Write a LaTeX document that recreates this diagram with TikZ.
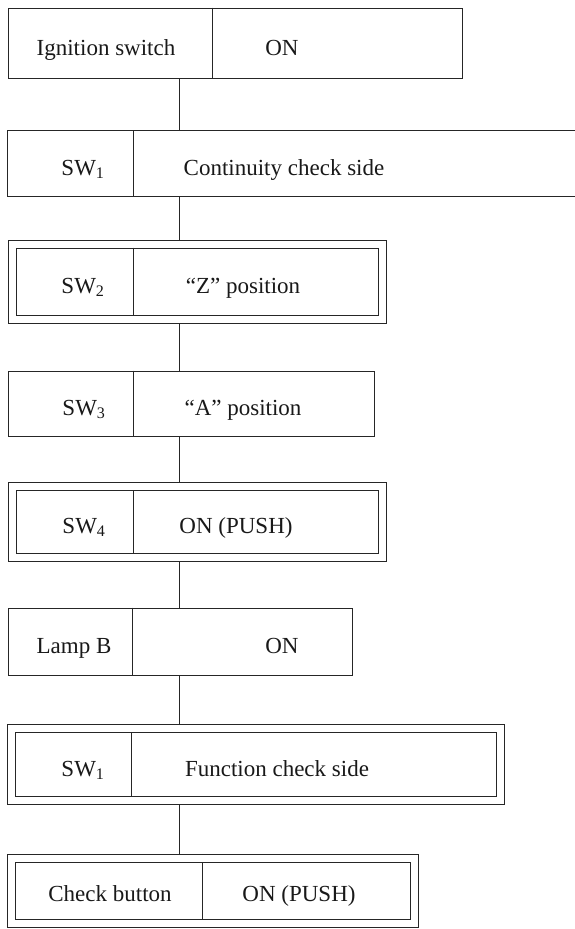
\documentclass[tikz,border=0pt]{standalone}
\usepackage{fontspec}
\setmainfont{Liberation Serif}
\usetikzlibrary{fit,calc}

\begin{document}
\begin{tikzpicture}[
      x=1pt, y=-1pt,
      frame/.style={draw=black!85,line width=0.9pt,inner sep=0pt},
      outer/.style={frame,inner sep=7.5pt},
      txt/.style={anchor=base,inner sep=0pt,font=\fontsize{23}{27}\selectfont,text=black!90},
      wire/.style={draw=black!85,line width=0.9pt},
    ]
    \useasboundingbox[fill=white] (0,0) rectangle (575,929);
    \coordinate (spine) at (179,0);

  % ignition switch
  \node[frame, fit={(8,8) (462,78)}] (ign) {};
  \draw[wire] (ign.north -| 212,0) -- (ign.south -| 212,0);
  \node[txt] (ignl) at (106,55) {Ignition switch};
  \node[txt] (ignr) at (282,55) {ON};

  % SW1, open on the right
  \node[inner sep=0pt, fit={(8,131) (575,196)}] (cont) {};
  \draw[wire] (cont.north east) -| (cont.south west) -- (cont.south east);
  \draw[wire] (cont.north -| 133,0) -- (cont.south -| 133,0);
  \node[txt] (contl) at (83,175) {SW\textsubscript{1}};
  \node[txt] (contr) at (284,175) {Continuity check side};

  % SW2
  \node[frame, fit={(16,248) (378.5,315.5)}] (zposi) {};
  \node[outer, fit=(zposi)] (zpos) {};
  \draw[wire] (zposi.north -| 133,0) -- (zposi.south -| 133,0);
  \node[txt] (zposl) at (83,293) {SW\textsubscript{2}};
  \node[txt] (zposr) at (243,293) {``Z'' position};

  % SW3
  \node[frame, fit={(8,371) (374,436)}] (apos) {};
  \draw[wire] (apos.north -| 133,0) -- (apos.south -| 133,0);
  \node[txt] (aposl) at (84,415) {SW\textsubscript{3}};
  \node[txt] (aposr) at (243,415) {``A'' position};

  % SW4
  \node[frame, fit={(16,490.5) (378.5,553.5)}] (pushi) {};
  \node[outer, fit=(pushi)] (push) {};
  \draw[wire] (pushi.north -| 133,0) -- (pushi.south -| 133,0);
  \node[txt] (pushl) at (84,533) {SW\textsubscript{4}};
  \node[txt] (pushr) at (236,533) {ON (PUSH)};

  % lamp B
  \node[frame, fit={(8,608) (352,675)}] (lamp) {};
  \draw[wire] (lamp.north -| 132,0) -- (lamp.south -| 132,0);
  \node[txt] (lampl) at (74,653) {Lamp B};
  \node[txt] (lampr) at (282,653) {ON};

  % SW1 function side
  \node[frame, fit={(15.5,732.5) (496.5,796.5)}] (funci) {};
  \node[outer, fit=(funci)] (func) {};
  \draw[wire] (funci.north -| 131,0) -- (funci.south -| 131,0);
  \node[txt] (funcl) at (83,776) {SW\textsubscript{1}};
  \node[txt] (funcr) at (277,776) {Function check side};

  % check button
  \node[frame, fit={(15.5,862.5) (410.5,919.5)}] (chki) {};
  \node[outer, fit=(chki)] (chk) {};
  \draw[wire] (chki.north -| 202,0) -- (chki.south -| 202,0);
  \node[txt] (chkl) at (110,901) {Check button};
  \node[txt] (chkr) at (299,901) {ON (PUSH)};

  % connectors
  \draw[wire] (spine |- ign.south) -- (spine |- cont.north);
  \draw[wire] (spine |- cont.south) -- (spine |- zpos.north);
  \draw[wire] (spine |- zpos.south) -- (spine |- apos.north);
  \draw[wire] (spine |- apos.south) -- (spine |- push.north);
  \draw[wire] (spine |- push.south) -- (spine |- lamp.north);
  \draw[wire] (spine |- lamp.south) -- (spine |- func.north);
  \draw[wire] (spine |- func.south) -- (spine |- chk.north);
\end{tikzpicture}
\end{document}
